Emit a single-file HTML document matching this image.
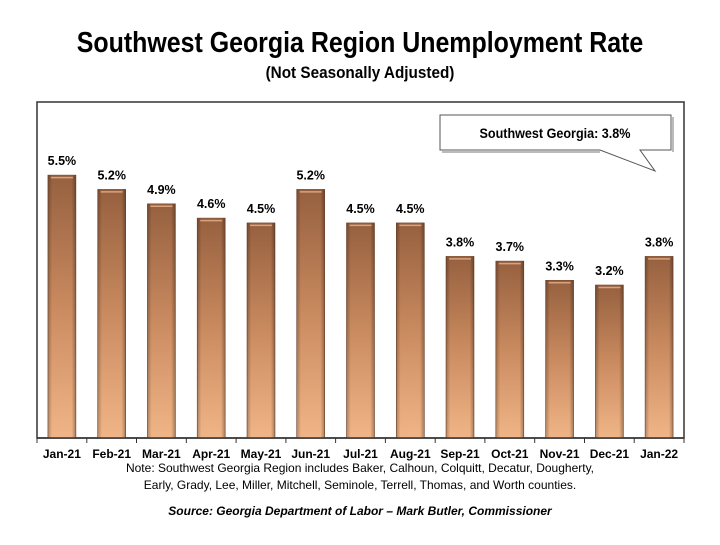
<!DOCTYPE html>
<html><head><meta charset="utf-8"><style>
body{margin:0;background:#fff;width:720px;height:540px;overflow:hidden;font-family:"Liberation Sans",Arial,sans-serif}
</style></head><body>
<svg width="720" height="540" xmlns="http://www.w3.org/2000/svg" font-family="Liberation Sans, Arial, sans-serif">
<defs>
<linearGradient id="g" x1="0" y1="0" x2="0" y2="1">
<stop offset="0" stop-color="#96603f"/><stop offset="0.5" stop-color="#c98a5f"/><stop offset="1" stop-color="#f0b587"/>
</linearGradient>
<linearGradient id="h" x1="0" y1="0" x2="1" y2="0">
<stop offset="0" stop-color="#000" stop-opacity="0.25"/><stop offset="0.15" stop-color="#000" stop-opacity="0"/><stop offset="0.85" stop-color="#000" stop-opacity="0"/><stop offset="1" stop-color="#000" stop-opacity="0.3"/>
</linearGradient>
<g id="cap"><line x1="-11" y1="2.5" x2="11" y2="2.5" stroke="#d9a27a" stroke-width="1.5"/></g>
</defs>
<text x="360" y="52" text-anchor="middle" font-size="29" font-weight="bold" transform="translate(360,0) scale(0.86,1) translate(-360,0)">Southwest Georgia Region Unemployment Rate</text>
<text x="360" y="78" text-anchor="middle" font-size="17" font-weight="bold" transform="translate(360,0) scale(0.9,1) translate(-360,0)">(Not Seasonally Adjusted)</text>
<rect x="37" y="102" width="647" height="336" fill="none" stroke="#333" stroke-width="1.5"/>

<g stroke="#333">
<line x1="37" y1="438" x2="37" y2="443"/><line x1="86.8" y1="438" x2="86.8" y2="443"/><line x1="136.5" y1="438" x2="136.5" y2="443"/><line x1="186.3" y1="438" x2="186.3" y2="443"/><line x1="236.1" y1="438" x2="236.1" y2="443"/><line x1="285.9" y1="438" x2="285.9" y2="443"/><line x1="335.6" y1="438" x2="335.6" y2="443"/><line x1="385.4" y1="438" x2="385.4" y2="443"/><line x1="435.2" y1="438" x2="435.2" y2="443"/><line x1="484.9" y1="438" x2="484.9" y2="443"/><line x1="534.7" y1="438" x2="534.7" y2="443"/><line x1="584.5" y1="438" x2="584.5" y2="443"/><line x1="634.2" y1="438" x2="634.2" y2="443"/><line x1="684" y1="438" x2="684" y2="443"/>
</g>

<g font-size="12.5" font-weight="bold" text-anchor="middle">
<g transform="translate(61.9,175.1)"><rect x="-14" y="0" width="28" height="262.9" fill="url(#g)" stroke="#7a4a30" stroke-width="0.6"/><rect x="-14" y="0" width="28" height="262.9" fill="url(#h)"/><use href="#cap"/><text y="-10">5.5%</text></g>
<g transform="translate(111.7,189.4)"><rect x="-14" y="0" width="28" height="248.6" fill="url(#g)" stroke="#7a4a30" stroke-width="0.6"/><rect x="-14" y="0" width="28" height="248.6" fill="url(#h)"/><use href="#cap"/><text y="-10">5.2%</text></g>
<g transform="translate(161.4,203.8)"><rect x="-14" y="0" width="28" height="234.2" fill="url(#g)" stroke="#7a4a30" stroke-width="0.6"/><rect x="-14" y="0" width="28" height="234.2" fill="url(#h)"/><use href="#cap"/><text y="-10">4.9%</text></g>
<g transform="translate(211.2,218.1)"><rect x="-14" y="0" width="28" height="219.9" fill="url(#g)" stroke="#7a4a30" stroke-width="0.6"/><rect x="-14" y="0" width="28" height="219.9" fill="url(#h)"/><use href="#cap"/><text y="-10">4.6%</text></g>
<g transform="translate(261,222.9)"><rect x="-14" y="0" width="28" height="215.1" fill="url(#g)" stroke="#7a4a30" stroke-width="0.6"/><rect x="-14" y="0" width="28" height="215.1" fill="url(#h)"/><use href="#cap"/><text y="-10">4.5%</text></g>
<g transform="translate(310.7,189.4)"><rect x="-14" y="0" width="28" height="248.6" fill="url(#g)" stroke="#7a4a30" stroke-width="0.6"/><rect x="-14" y="0" width="28" height="248.6" fill="url(#h)"/><use href="#cap"/><text y="-10">5.2%</text></g>
<g transform="translate(360.5,222.9)"><rect x="-14" y="0" width="28" height="215.1" fill="url(#g)" stroke="#7a4a30" stroke-width="0.6"/><rect x="-14" y="0" width="28" height="215.1" fill="url(#h)"/><use href="#cap"/><text y="-10">4.5%</text></g>
<g transform="translate(410.3,222.9)"><rect x="-14" y="0" width="28" height="215.1" fill="url(#g)" stroke="#7a4a30" stroke-width="0.6"/><rect x="-14" y="0" width="28" height="215.1" fill="url(#h)"/><use href="#cap"/><text y="-10">4.5%</text></g>
<g transform="translate(460,256.4)"><rect x="-14" y="0" width="28" height="181.6" fill="url(#g)" stroke="#7a4a30" stroke-width="0.6"/><rect x="-14" y="0" width="28" height="181.6" fill="url(#h)"/><use href="#cap"/><text y="-10">3.8%</text></g>
<g transform="translate(509.8,261.1)"><rect x="-14" y="0" width="28" height="176.9" fill="url(#g)" stroke="#7a4a30" stroke-width="0.6"/><rect x="-14" y="0" width="28" height="176.9" fill="url(#h)"/><use href="#cap"/><text y="-10">3.7%</text></g>
<g transform="translate(559.6,280.3)"><rect x="-14" y="0" width="28" height="157.7" fill="url(#g)" stroke="#7a4a30" stroke-width="0.6"/><rect x="-14" y="0" width="28" height="157.7" fill="url(#h)"/><use href="#cap"/><text y="-10">3.3%</text></g>
<g transform="translate(609.4,285)"><rect x="-14" y="0" width="28" height="153" fill="url(#g)" stroke="#7a4a30" stroke-width="0.6"/><rect x="-14" y="0" width="28" height="153" fill="url(#h)"/><use href="#cap"/><text y="-10">3.2%</text></g>
<g transform="translate(659.1,256.4)"><rect x="-14" y="0" width="28" height="181.6" fill="url(#g)" stroke="#7a4a30" stroke-width="0.6"/><rect x="-14" y="0" width="28" height="181.6" fill="url(#h)"/><use href="#cap"/><text y="-10">3.8%</text></g>
</g>

<g font-size="12" font-weight="bold" text-anchor="middle">
<text x="61.9" y="458">Jan-21</text><text x="111.7" y="458">Feb-21</text><text x="161.4" y="458">Mar-21</text><text x="211.2" y="458">Apr-21</text><text x="261" y="458">May-21</text><text x="310.7" y="458">Jun-21</text><text x="360.5" y="458">Jul-21</text><text x="410.3" y="458">Aug-21</text><text x="460" y="458">Sep-21</text><text x="509.8" y="458">Oct-21</text><text x="559.6" y="458">Nov-21</text><text x="609.4" y="458">Dec-21</text><text x="659.1" y="458">Jan-22</text>
</g>
<line x1="37" y1="438" x2="684" y2="438" stroke="#333" stroke-width="1.5"/>

<polygon points="440,115 671,115 671,150 640,150 655,171 600,150 440,150" fill="#fff" stroke="#555" stroke-width="1"/>
<line x1="442" y1="152" x2="600" y2="152" stroke="#bbb" stroke-width="2"/>
<line x1="673" y1="117" x2="673" y2="152" stroke="#bbb" stroke-width="2"/>
<text x="555" y="138" text-anchor="middle" font-size="14" font-weight="bold" transform="translate(555,0) scale(0.9,1) translate(-555,0)">Southwest Georgia: 3.8%</text>
<text x="360" y="472" text-anchor="middle" font-size="12">Note: Southwest Georgia Region includes Baker, Calhoun, Colquitt, Decatur, Dougherty,</text>
<text x="360" y="489" text-anchor="middle" font-size="12">Early, Grady, Lee, Miller, Mitchell, Seminole, Terrell, Thomas, and Worth counties.</text>
<text x="360" y="515" text-anchor="middle" font-size="12" font-weight="bold" font-style="italic">Source:  Georgia Department of Labor – Mark Butler, Commissioner</text>
</svg>
</body></html>
